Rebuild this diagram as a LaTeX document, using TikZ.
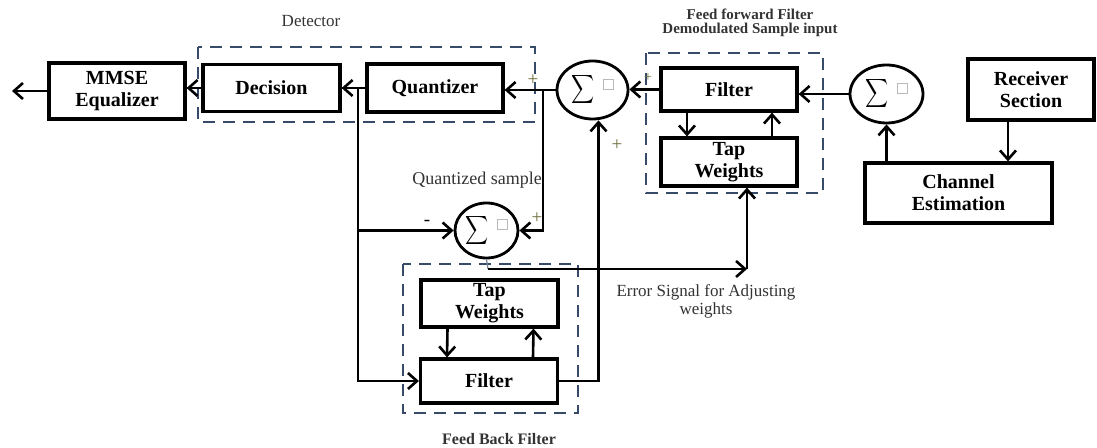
\documentclass[tikz,border=0pt]{standalone}
\usepackage{fontspec}
\setmainfont{Liberation Serif}
\usetikzlibrary{shapes.geometric,arrows.meta}

\definecolor{dashblue}{RGB}{55,75,105}
\definecolor{plusolive}{RGB}{110,110,60}
\newcommand{\sumsym}{\scalebox{0.8}[1]{$\displaystyle\sum$}\hspace{4pt}\raisebox{3pt}{\textcolor{gray!55}{\setlength{\fboxsep}{0pt}\setlength{\fboxrule}{0.5pt}\fbox{\rule{0pt}{4.5pt}\hspace{4.5pt}}}}}

\begin{document}
\begin{tikzpicture}[
    x=0.5pt, y=-0.5pt, line width=1.3pt,
    >={Straight Barb[length=4.5pt,width=8pt]},
    block/.style={draw, line width=1.6pt, font=\bfseries\fontsize{10}{11}\selectfont, align=center, inner sep=0pt},
    summer/.style={ellipse, draw, line width=1.4pt, inner sep=0pt, minimum width=35.5pt, minimum height=29pt, font=\fontsize{10}{11}\selectfont},
    dashbox/.style={draw=dashblue, line width=1pt, dash pattern=on 6pt off 4pt},
    lab/.style={font=\fontsize{8.5}{9}\selectfont, text=black!80, align=center},
    sign/.style={font=\fontsize{9.5}{9.5}\selectfont, text=plusolive, inner sep=0pt}
]

    \useasboundingbox (0,0) rectangle (1097,448);

    \node[block, minimum width=68pt, minimum height=28pt] (mmse) at (117,91) {MMSE\\Equalizer};
    \node[block, minimum width=68.5pt, minimum height=23.5pt] (dec) at (271.5,88) {Decision};
    \node[block, minimum width=68pt, minimum height=24pt] (quant) at (435,88) {Quantizer};

    \node[summer] (s1) at (592.5,90) {\sumsym};
    \node[block, minimum width=68pt, minimum height=21.5pt] (fffilt) at (729,89.5) {Filter};
    \node[block, minimum width=68pt, minimum height=24pt] (fftap) at (729,162) {Tap\\Weights};

    \node[summer, minimum width=36.5pt] (s2) at (886.5,94) {\sumsym};
    \node[block, minimum width=63pt, minimum height=30.5pt] (recv) at (1031,89.5) {Receiver\\Section};
    \node[block, minimum width=93.5pt, minimum height=30pt] (chan) at (958.5,193) {Channel\\Estimation};

    \node[summer, minimum width=31.5pt, minimum height=27.5pt] (s3) at (486.5,230.5) {\sumsym};
    \node[block, minimum width=68.5pt, minimum height=23.5pt] (fbtap) at (489.5,303.5) {Tap\\Weights};
    \node[block, minimum width=68.5pt, minimum height=22pt] (fbfilt) at (489,381) {Filter};

    \draw[dashbox] (198,47) rectangle (535,122);
    \draw[dashbox] (646,53) rectangle (823,193);
    \draw[dashbox] (403,264) rectangle (578,413);

    \node[lab] (detlab) at (311,21) {Detector};
    \node[lab, font=\bfseries\fontsize{7.5}{7}\selectfont] (fflab) at (750,23) {Feed forward Filter\\Demodulated Sample input};
    \node[lab, font=\fontsize{9}{9}\selectfont] (qslab) at (477,180) {Quantized sample};
    \node[lab] (errlab) at (706,301) {Error Signal for Adjusting\\weights};
    \node[lab, font=\bfseries\fontsize{8}{9}\selectfont] (fblab) at (499,439) {Feed Back Filter};

    \node[sign] (pq) at (533,80) {+};
    \node[sign, font=\fontsize{7}{7}\selectfont] (pf) at (648,78) {+};
    \node[sign] (pb) at (617,145) {+};
    \node[sign] (ps) at (537,218) {+};
    \node[sign, text=black] (ms) at (427,223) {-};

    \coordinate (out) at (12,91);
    \coordinate (j1) at (358,88);
    \coordinate (j2) at (543,90);
    \coordinate (e1) at (488,269);
    \coordinate (e2) at (747,269);

    \draw[->] (mmse.west) -- (out);
    \draw[->] (dec.west) -- (dec.west -| mmse.east);
    \draw[->] (quant.west) -- (dec.east);
    \draw[->] (s1.west) -- (s1.west -| quant.east);
    \draw[->] (j1) |- (s3.west);
    \draw[->] (j1) |- (fbfilt.west);
    \draw[->] (j2) |- (s3.east);
    \draw[->] (fffilt.west) -- (fffilt.west -| s1.east);
    \draw[->] (s2.west) -- (s2.west -| fffilt.east);

    \draw[->] ([xshift=-21pt]fffilt.south) -- ([xshift=-21pt]fftap.north);
    \draw[->] ([xshift=21.5pt]fftap.north) -- ([xshift=21.5pt]fffilt.south);
    \draw[->] ([xshift=-21pt]fbtap.south) -- ([xshift=-21pt]fbfilt.north);
    \draw[->] ([xshift=22pt]fbfilt.north) -- ([xshift=22pt]fbtap.south);

    \draw[->] (fbfilt.east) -| ([xshift=3pt]s1.south);
    \draw[line width=0.6pt, draw=dashblue!70] (s3.south) -- (e1);
    \draw[->] (e1) -- (e2);
    \draw[->] (e2) -- (e2 |- fftap.south);

    \draw[->] (s2.south |- chan.north) -- (s2.south);
    \draw[->] ([xshift=-11.5pt]recv.south) -- ([xshift=-11.5pt]recv.south |- chan.north);

\end{tikzpicture}
\end{document}
